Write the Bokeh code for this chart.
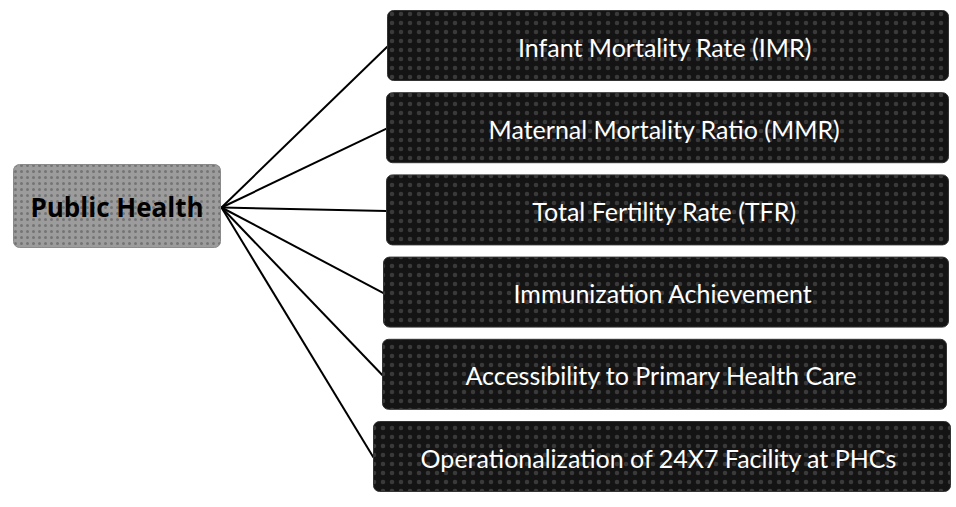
from bokeh.plotting import figure
from bokeh.models import Range1d, ColumnDataSource
from bokeh.core.properties import value
from bokeh.embed import file_html
from bokeh.resources import INLINE

# --- content ---
root_label = "Public Health"
items = [
    "Infant Mortality Rate (IMR)",
    "Maternal Mortality Ratio (MMR)",
    "Total Fertility Rate (TFR)",
    "Immunization Achievement",
    "Accessibility to Primary Health Care",
    "Operationalization of 24X7 Facility at PHCs",
]

# --- layout (pixel coordinates of the page image) ---
box_left = [387, 386, 386, 383, 382, 373]
box_right = [948, 948, 948, 948, 946, 950]
box_top0 = 10
box_step = 82.2
box_h = 70
root_box = dict(left=13, right=220, top=164, bottom=247)
hub = (221, 207)

n = len(items)
tops = [box_top0 + i * box_step for i in range(n)]
bottoms = [t + box_h for t in tops]
centers = [(t + b) / 2 + 1 for t, b in zip(tops, bottoms)]
text_x = [(l + r) / 2 - 3 for l, r in zip(box_left, box_right)]

W, H = 954, 505
p = figure(width=W, height=H, output_backend="svg", toolbar_location=None,
           x_range=Range1d(0, W), y_range=Range1d(H, 0),
           min_border=0, min_border_left=0, min_border_right=0,
           min_border_top=0, min_border_bottom=0)
p.axis.visible = False
p.grid.visible = False
p.outline_line_color = None
p.background_fill_color = "white"
p.border_fill_color = "white"

# connectors
p.segment(x0=[hub[0]] * n, y0=[hub[1]] * n, x1=box_left, y1=centers,
          line_color="black", line_width=2)

# root box
p.quad(left=[root_box["left"]], right=[root_box["right"]],
       top=[root_box["top"]], bottom=[root_box["bottom"]],
       fill_color="#9c9c9c", line_color="#8a8a8a", line_width=1,
       border_radius=6, hatch_pattern="dot", hatch_color="#5a5a5a",
       hatch_scale=6, hatch_alpha=0.6, hatch_weight=1)
p.text(x=[(root_box["left"] + root_box["right"]) / 2],
       y=[(root_box["top"] + root_box["bottom"]) / 2 + 1],
       text=[root_label], text_align="center", text_baseline="middle",
       text_font=value("Open Sans"), text_font_style="bold",
       text_font_size="26px", text_color="black")

# item boxes
src = ColumnDataSource(dict(left=box_left, right=box_right, top=tops,
                            bottom=bottoms, cy=centers, tx=text_x, label=items))
p.quad(left="left", right="right", top="top", bottom="bottom", source=src,
       fill_color="#141414", line_color="#333333", line_width=1,
       border_radius=6, hatch_pattern="dot", hatch_color="#4a4a4a",
       hatch_scale=9, hatch_alpha=0.7, hatch_weight=1)
p.text(x="tx", y="cy", text="label", source=src, text_align="center",
       text_baseline="middle", text_font=value("Lato"),
       text_font_size="25px", text_color="white")

open("out.html", "w").write(file_html(p, INLINE))
